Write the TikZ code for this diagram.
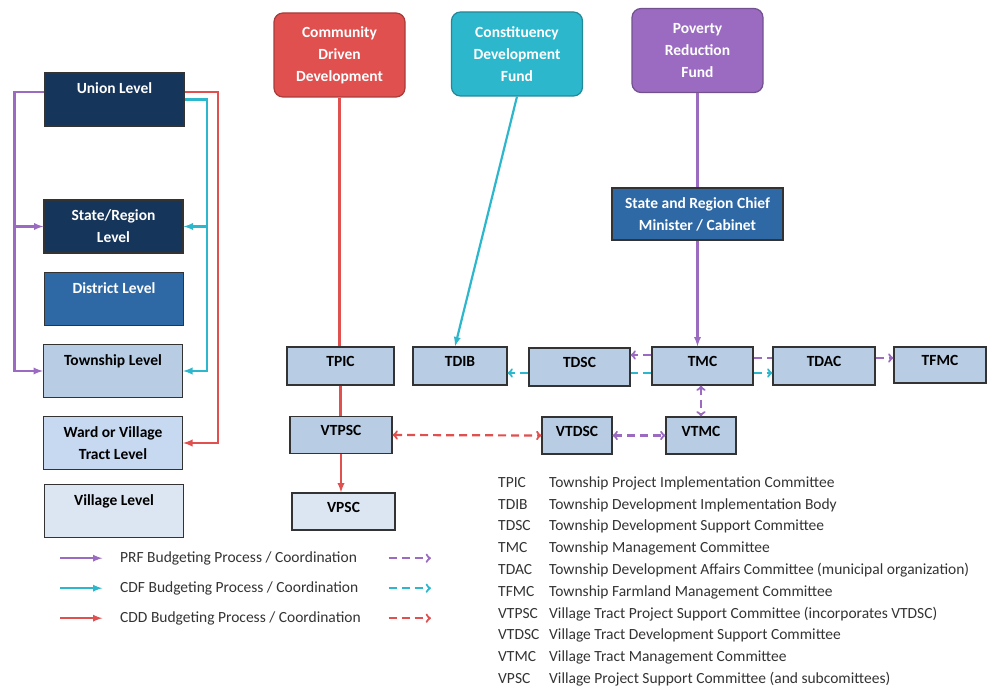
\documentclass[tikz,border=0pt]{standalone}
\usepackage{fontspec}
\setmainfont{Carlito}
\usetikzlibrary{arrows,matrix}
\definecolor{navy}{HTML}{16355A}
\definecolor{midblue}{HTML}{2F69A5}
\definecolor{paleblue}{HTML}{B8CCE4}
\definecolor{lightblue}{HTML}{C6D9F1}
\definecolor{faintblue}{HTML}{DCE6F2}
\definecolor{cddred}{HTML}{E0504F}
\definecolor{cdfcyan}{HTML}{2DB7CC}
\definecolor{prfpurple}{HTML}{9A6BC0}
\begin{document}
\begin{tikzpicture}[x=1pt,y=-1pt,
  lvl/.style={draw=black!80,line width=1.2pt,minimum width=139pt,minimum height=53pt,inner sep=0pt,align=center,font=\bfseries\fontsize{15.5}{22}\selectfont},
  lvltop/.style={lvl,text height=21pt,text depth=32pt},
  fund/.style={draw=#1!75!black,fill=#1,rounded corners=9pt,line width=1.2pt,minimum width=131pt,minimum height=84pt,inner sep=0pt,align=center,text=white,font=\bfseries\fontsize{15.5}{22}\selectfont},
  comm/.style={draw=black!80,fill=paleblue,line width=1.2pt,minimum height=38pt,inner sep=0pt,text height=9pt,text depth=8pt,font=\bfseries\fontsize{15.5}{18}\selectfont},
  flow/.style={line width=2.2pt,-latex},
  dashflow/.style={line width=2.2pt,dash pattern=on 8pt off 5pt}]
\useasboundingbox (0,0) rectangle (988,687);
\node[lvltop,fill=navy,text=white] (union) at (114.5,99.5) {Union Level};
\node[lvl,fill=navy,text=white] (staterg) at (113.5,226.5) {State/Region\\Level};
\node[lvltop,fill=midblue,text=white] (district) at (114,299) {District Level};
\node[lvltop,fill=paleblue] (township) at (113,371) {Township Level};
\node[lvl,fill=lightblue] (ward) at (113,443) {Ward or Village\\Tract Level};
\node[lvltop,fill=faintblue] (village) at (114,511) {Village Level};
\node[fund=cddred] (cdd) at (339.5,55) {Community\\Driven\\Development};
\node[fund=cdfcyan] (cdf) at (517,54) {Constituency\\Development\\Fund};
\node[fund=prfpurple] (prf) at (697.5,50.5) {Poverty\\Reduction\\Fund};
\node[lvl,fill=midblue,text=white,minimum width=171pt,minimum height=52pt] (chief) at (697.5,214) {State and Region Chief\\Minister / Cabinet};
\node[comm,minimum width=107pt] (tpic) at (340.5,366) {TPIC};
\node[comm,minimum width=94pt] (tdib) at (460,366) {TDIB};
\node[comm,minimum width=101pt] (tdsc) at (579.5,367) {TDSC};
\node[comm,minimum width=101pt] (tmc) at (702.5,366) {TMC};
\node[comm,minimum width=102pt] (tdac) at (824,366) {TDAC};
\node[comm,minimum width=92pt,minimum height=36pt] (tfmc) at (940,365) {TFMC};
\node[comm,minimum width=102pt,minimum height=37pt] (vtpsc) at (341,435) {VTPSC};
\node[comm,minimum width=70pt,minimum height=37pt] (vtdsc) at (577,435.5) {VTDSC};
\node[comm,minimum width=70pt,minimum height=37pt] (vtmc) at (701,435.5) {VTMC};
\node[comm,minimum width=103pt,minimum height=37pt,fill=faintblue] (vpsc) at (343.5,511.5) {VPSC};

\coordinate (prfrail) at (14.5,92);
\coordinate (cdfrail) at (207,99.5);
\coordinate (cddrail) at (218,92);
\draw[flow,prfpurple] ([yshift=7.5pt]union.west) -- (prfrail) |- (township.west);
\draw[flow,prfpurple] (prfrail |- staterg.west) -- (staterg.west);
\draw[flow,cdfcyan] (union.east) -- (cdfrail) |- (township.east);
\draw[flow,cdfcyan] (cdfrail |- staterg.east) -- (staterg.east);
\draw[flow,cddred] ([yshift=7.5pt]union.east) -- (cddrail) |- (ward.east);

\draw[line width=2.2pt,cddred] (cdd.south) -- (cdd.south |- tpic.north);
\draw[line width=2.2pt,cddred] (tpic.south) -- (tpic.south |- vtpsc.north);
\draw[flow,cddred] (vtpsc.south) -- (vtpsc.south |- vpsc.north);
\draw[flow,cdfcyan] (cdf.south) -- ([xshift=-5pt]tdib.north);
\draw[line width=2.2pt,prfpurple] (prf.south) -- (chief.north);
\draw[flow,prfpurple] (chief.south) -- (chief.south |- tmc.north);

\draw[dashflow,->,prfpurple] ([yshift=11pt]tmc.west) -- ([yshift=12pt]tdsc.east);
\draw[dashflow,cdfcyan] ([yshift=-7pt]tmc.west) -- ([yshift=-6pt]tdsc.east);
\draw[dashflow,->,cdfcyan] ([yshift=-6pt]tdsc.west) -- ([yshift=-7pt]tdib.east);
\draw[dashflow,->,cdfcyan] ([yshift=-7pt]tmc.east) -- ([yshift=-7pt]tdac.west);
\draw[dashflow,prfpurple] ([yshift=8pt]tmc.east) -- ([yshift=8pt]tdac.west);
\draw[dashflow,->,prfpurple] ([yshift=8pt]tdac.east) -- ([yshift=7pt]tfmc.west);
\draw[dashflow,<->,prfpurple] (vtmc.north |- tmc.south) -- (vtmc.north);
\draw[dashflow,<->,prfpurple] (vtdsc.east) -- (vtmc.west);
\draw[dashflow,<->,cddred] (vtpsc.east) -- (vtdsc.west);

\matrix (legend) [matrix of nodes,nodes in empty cells,anchor=north west,inner sep=0pt,column sep=18pt,row sep=0pt,
  nodes={minimum height=30pt,inner sep=0pt,anchor=center,font=\fontsize{15.5}{18}\selectfont,text=black!80},
  column 1/.style={nodes={minimum width=42pt}},column 2/.style={nodes={anchor=west}},column 3/.style={nodes={minimum width=42pt}}] at (60,543) {
 & PRF Budgeting Process / Coordination &[10pt] \\
 & CDF Budgeting Process / Coordination & \\
 & CDD Budgeting Process / Coordination & \\
};
\draw[flow,prfpurple] (legend-1-1.west) -- (legend-1-1.east);
\draw[flow,cdfcyan] (legend-2-1.west) -- (legend-2-1.east);
\draw[flow,cddred] (legend-3-1.west) -- (legend-3-1.east);
\draw[dashflow,->,prfpurple] (legend-1-3.west) -- (legend-1-3.east);
\draw[dashflow,->,cdfcyan] (legend-2-3.west) -- (legend-2-3.east);
\draw[dashflow,->,cddred] (legend-3-3.west) -- (legend-3-3.east);

\matrix (abbr) [matrix of nodes,anchor=north west,inner sep=0pt,column sep=0pt,row sep=0pt,
  nodes={inner sep=0pt,anchor=west,text height=12pt,text depth=9.8pt,font=\fontsize{15.5}{18}\selectfont,text=black!80},
  column 1/.style={nodes={text width=51pt}}] at (498,475) {
TPIC & Township Project Implementation Committee\\
TDIB & Township Development Implementation Body\\
TDSC & Township Development Support Committee\\
TMC & Township Management Committee\\
TDAC & Township Development Affairs Committee (municipal organization)\\
TFMC & Township Farmland Management Committee\\
VTPSC & Village Tract Project Support Committee (incorporates VTDSC)\\
VTDSC & Village Tract Development Support Committee\\
VTMC & Village Tract Management Committee\\
VPSC & Village Project Support Committee (and subcomittees)\\
};
\end{tikzpicture}
\end{document}
